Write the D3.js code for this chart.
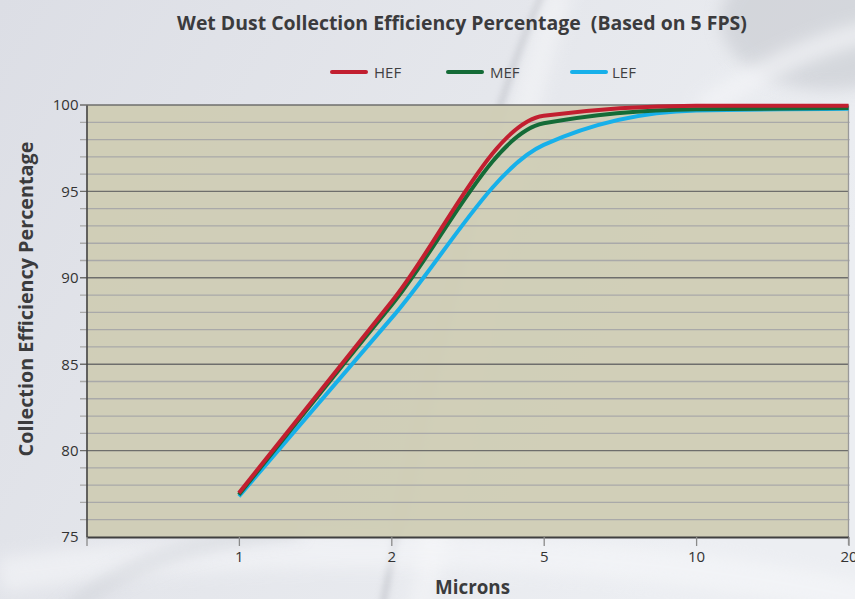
<!DOCTYPE html>
<html>
<head>
<meta charset="utf-8">
<script src="https://cdn.jsdelivr.net/npm/d3@7"></script>
<style>
  html, body { margin: 0; padding: 0; overflow: hidden; background: #e4e6eb; }
  svg { display: block; }
  text { font-family: "Open Sans", "Noto Sans", sans-serif; }
</style>
</head>
<body>
<svg id="chart" width="855" height="599"></svg>
<script>
// ---- data ----
const categories = ["", "1", "2", "5", "10", "20"];
const hefValues  = [null, 77.55, 88.6, 99.38, 99.96, 99.96];
const mefValues  = [null, 77.45, 88.4, 98.94, 99.76, 99.82];
const lefValues  = [null, 77.35, 87.65, 97.69, 99.68, 99.78];
const seriesNames = ["HEF", "MEF", "LEF"];
const yTicksMajor = [75, 80, 85, 90, 95, 100];
const yTicksMinor = d3.range(76, 100, 1).filter(v => v % 5 !== 0);
const titleText = "Wet Dust Collection Efficiency Percentage  (Based on 5 FPS)";
const xTitleText = "Microns";
const yTitleText = "Collection Efficiency Percentage";

// ---- styles ----
const colors = { HEF: "#c21f30", MEF: "#146b37", LEF: "#17b0ea" };
const W = 855, H = 599;
const plot = { left: 86.5, right: 848.5, top: 105, bottom: 537 };

const svg = d3.select("#chart");
const defs = svg.append("defs");

// background
const bg = defs.append("linearGradient").attr("id", "bgGrad")
  .attr("x1", "0").attr("y1", "0").attr("x2", "1").attr("y2", "0.4");
bg.append("stop").attr("offset", "0").attr("stop-color", "#dcdee5");
bg.append("stop").attr("offset", "0.55").attr("stop-color", "#e5e7ec");
bg.append("stop").attr("offset", "1").attr("stop-color", "#eceef2");
defs.append("filter").attr("id", "blur8").attr("x", "-50%").attr("y", "-50%")
  .attr("width", "200%").attr("height", "200%")
  .append("feGaussianBlur").attr("stdDeviation", 8);
defs.append("filter").attr("id", "blur3").attr("x", "-50%").attr("y", "-50%")
  .attr("width", "200%").attr("height", "200%")
  .append("feGaussianBlur").attr("stdDeviation", 3);

svg.append("rect").attr("width", W).attr("height", H).attr("fill", "url(#bgGrad)");
const deco = svg.append("g");
deco.append("ellipse").attr("cx", 830).attr("cy", 20).attr("rx", 110).attr("ry", 70)
  .attr("fill", "#c3c6cc").attr("opacity", 0.55).attr("filter", "url(#blur8)");
deco.append("path").attr("d", "M700,110 C760,70 820,40 880,30")
  .attr("fill", "none").attr("stroke", "#f4f5f8").attr("stroke-width", 22)
  .attr("opacity", 0.7).attr("filter", "url(#blur8)");
deco.append("path").attr("d", "M545,-10 C500,80 440,300 380,620")
  .attr("fill", "none").attr("stroke", "#b9bcc3").attr("stroke-width", 6)
  .attr("opacity", 0.6).attr("filter", "url(#blur3)");
deco.append("path").attr("d", "M560,-10 C520,120 470,300 420,620")
  .attr("fill", "none").attr("stroke", "#f5f6f8").attr("stroke-width", 26)
  .attr("opacity", 0.6).attr("filter", "url(#blur8)");
deco.append("path").attr("d", "M0,575 C250,540 600,540 870,600")
  .attr("fill", "none").attr("stroke", "#f7f8fa").attr("stroke-width", 34)
  .attr("opacity", 0.55).attr("filter", "url(#blur8)");
deco.append("path").attr("d", "M60,620 C120,560 200,540 300,530")
  .attr("fill", "none").attr("stroke", "#c8cbd1").attr("stroke-width", 14)
  .attr("opacity", 0.5).attr("filter", "url(#blur8)");

// scales
const x = d3.scalePoint().domain(categories).range([plot.left, plot.right]);
const y = d3.scaleLinear().domain([75, 100]).range([plot.bottom, plot.top]);

// plot area fill
svg.append("rect")
  .attr("x", plot.left).attr("y", y(100))
  .attr("width", plot.right - plot.left).attr("height", y(75) - y(100))
  .attr("fill", "#cfcdb5").attr("opacity", 0.96);

// minor gridlines (with ticks extending left)
svg.append("g").selectAll("line").data(yTicksMinor).join("line")
  .attr("x1", plot.left - 6.5).attr("x2", plot.right + 1)
  .attr("y1", d => y(d)).attr("y2", d => y(d))
  .attr("stroke", "#a9a9a9").attr("stroke-width", 1.3);
// major gridlines
svg.append("g").selectAll("line").data(yTicksMajor.filter(v => v > 75)).join("line")
  .attr("x1", plot.left - 6.5).attr("x2", plot.right)
  .attr("y1", d => y(d)).attr("y2", d => y(d))
  .attr("stroke", "#6e6e6c").attr("stroke-width", 1.4);

// right border
svg.append("line").attr("x1", plot.right).attr("x2", plot.right)
  .attr("y1", y(100)).attr("y2", y(75) + 8)
  .attr("stroke", "#999").attr("stroke-width", 1.3);

// y axis
const yAxis = d3.axisLeft(y).tickValues(yTicksMajor).tickSize(0).tickPadding(8);
const gy = svg.append("g").attr("transform", `translate(${plot.left},0)`).call(yAxis);
gy.select(".domain").attr("stroke", "#444").attr("stroke-width", 1.6);
gy.selectAll("text").attr("font-size", 15).attr("fill", "#333")
  .attr("font-family", "'Open Sans', sans-serif");

// x axis
const xAxis = d3.axisBottom(x).tickSize(9).tickPadding(5).tickSizeOuter(0);
const gx = svg.append("g").attr("transform", `translate(0,${plot.bottom})`).call(xAxis);
gx.select(".domain").attr("stroke", "#3f3f3f").attr("stroke-width", 2);
gx.selectAll(".tick line").attr("stroke", "#8a8a8a").attr("stroke-width", 1.3);
gx.selectAll("text").attr("font-size", 15).attr("fill", "#333")
  .attr("font-family", "'Open Sans', sans-serif");

// lines
const seriesData = { HEF: hefValues, MEF: mefValues, LEF: lefValues };
const line = d3.line()
  .defined(d => d.v !== null)
  .x(d => x(d.c)).y(d => y(d.v))
  .curve(d3.curveMonotoneX);
["LEF", "MEF", "HEF"].forEach(name => {
  const pts = categories.map((c, i) => ({ c, v: seriesData[name][i] }));
  svg.append("path").datum(pts)
    .attr("d", line)
    .attr("fill", "none")
    .attr("stroke", colors[name])
    .attr("stroke-width", 4)
    .attr("stroke-linecap", "butt")
    .attr("stroke-linejoin", "round");
});

// fit text helper
function fit(sel, targetW) {
  const w = sel.node().getComputedTextLength();
  const fs = parseFloat(sel.attr("font-size"));
  sel.attr("font-size", fs * targetW / w);
}

// title
const title = svg.append("text").text(titleText)
  .attr("x", 462).attr("y", 30).attr("text-anchor", "middle")
  .style("white-space", "pre")
  .attr("font-weight", "bold").attr("font-size", 16).attr("fill", "#3b3b3d");
fit(title, 570);

// legend
const legendItems = [
  { name: "HEF", x1: 332, x2: 366, tx: 374 },
  { name: "MEF", x1: 448, x2: 482, tx: 490 },
  { name: "LEF", x1: 572, x2: 606, tx: 612 }
];
const lg = svg.append("g");
legendItems.forEach(it => {
  lg.append("line").attr("x1", it.x1).attr("x2", it.x2).attr("y1", 72).attr("y2", 72)
    .attr("stroke", colors[it.name]).attr("stroke-width", 4).attr("stroke-linecap", "round");
  lg.append("text").text(it.name).attr("x", it.tx).attr("y", 77.5)
    .attr("font-size", 15).attr("fill", "#404042");
});

// axis titles
const xt = svg.append("text").text(xTitleText)
  .attr("x", 472.5).attr("y", 594).attr("text-anchor", "middle")
  .attr("font-weight", "bold").attr("font-size", 18).attr("fill", "#3b3b3d");
fit(xt, 75);
const yt = svg.append("text").text(yTitleText)
  .attr("transform", "translate(33,299) rotate(-90)")
  .attr("text-anchor", "middle")
  .attr("font-weight", "bold").attr("font-size", 18).attr("fill", "#3b3b3d");
fit(yt, 315);
</script>
</body>
</html>
